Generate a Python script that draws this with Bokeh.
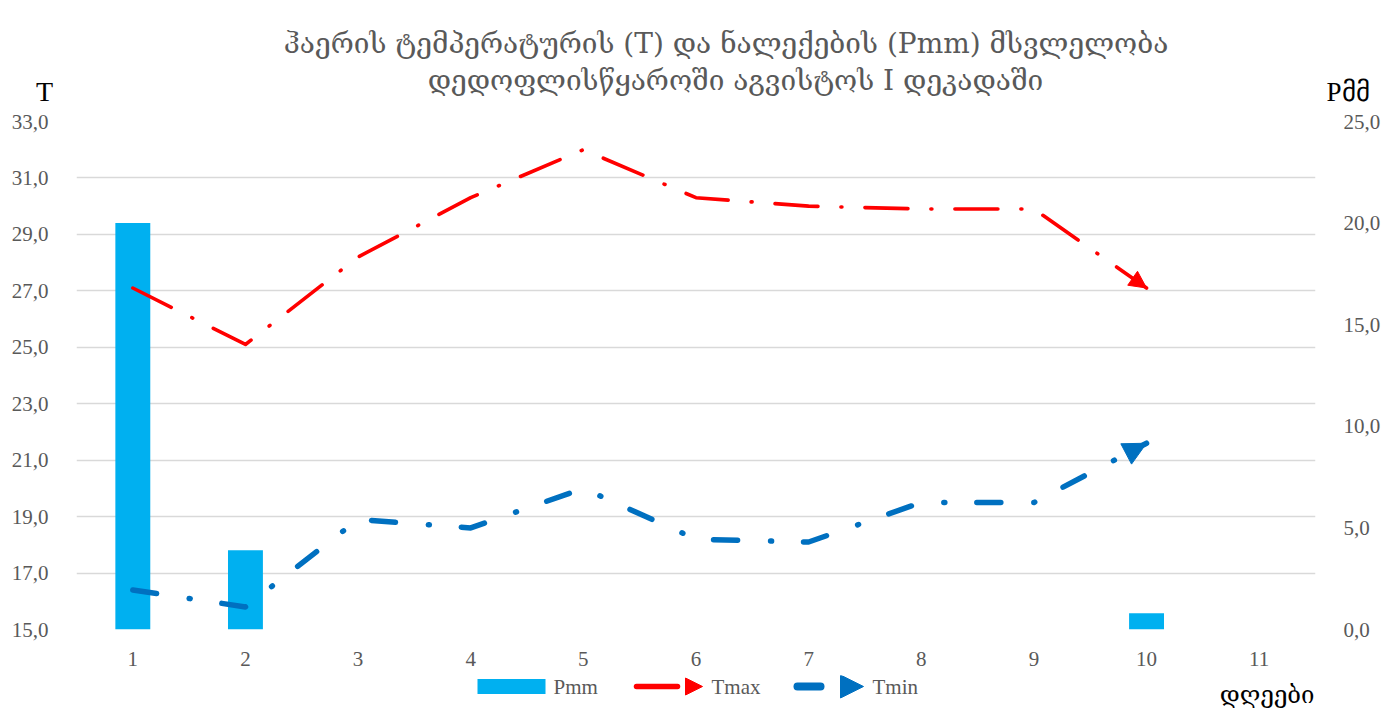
from bokeh.plotting import figure
from bokeh.layouts import column
from bokeh.models import (Range1d, LinearAxis, FixedTicker, CustomJSTickFormatter,
                          Arrow, NormalHead, ColumnDataSource, Label)
from bokeh.core.properties import value
from bokeh.embed import file_html
from bokeh.resources import INLINE

# ---------------- data ----------------
days = [1, 2, 3, 4, 5, 6, 7, 8, 9, 10, 11]
obs_days = [1, 2, 3, 4, 5, 6, 7, 8, 9, 10]
tmax = [27.1, 25.1, 28.2, 30.3, 32.0, 30.3, 30.0, 29.9, 29.9, 27.1]
tmin = [16.4, 15.8, 18.9, 18.6, 20.0, 18.2, 18.1, 19.5, 19.5, 21.6]
pmm = [20.0, 3.9, 0.0, 0.0, 0.0, 0.0, 0.0, 0.0, 0.0, 0.8]
t_ticks = [15, 17, 19, 21, 23, 25, 27, 29, 31, 33]
p_ticks = [0, 5, 10, 15, 20, 25]
title_lines = ["ჰაერის ტემპერატურის (T) და ნალექების (Pmm)  მსვლელობა",
               "დედოფლისწყაროში აგვისტოს I დეკადაში"]
series_names = ["Pmm", "Tmax", "Tmin"]
y_left_title = "T"
y_right_title = "Pმმ"
x_title = "დღეები"

BAR = "#00B0F0"
RED = "#FF0000"
BLUE = "#0070C0"
GREY = "#595959"
FONT = "Liberation Serif"
GEO = "DejaVu Serif"

W = 1392
FL, FR = 76, 1315          # frame left/right (all stacked figures share it)
TOP_H = 106
M_TOP, M_FRAME, M_BOT = 15, 508, 46
MAIN_H = M_TOP + M_FRAME + M_BOT
BOT_H = 714 - TOP_H - MAIN_H


def strip(h):
    f = figure(width=W, height=h, output_backend="svg", toolbar_location=None,
               x_range=Range1d(FL, FR), y_range=Range1d(h, 0),
               x_axis_type=None, y_axis_type=None,
               min_border_left=FL, min_border_right=W - FR,
               min_border_top=0, min_border_bottom=0)
    f.outline_line_alpha = 0
    f.xgrid.visible = False
    f.ygrid.visible = False
    return f


# ---------------- header ----------------
top = strip(TOP_H)
top.text(x=[730, 735], y=[43, 80], text=title_lines, text_font=value(GEO),
         text_font_size=value("28px"), text_color=GREY, text_align="center",
         text_baseline="middle")
top.add_layout(Label(text=y_left_title, x=44, y=91, x_units="canvas", y_units="canvas",
                     text_font=FONT, text_font_size="28px", text_color="black",
                     text_align="center", text_baseline="middle"), "left")
top.add_layout(Label(text=y_right_title, x=1326, y=91, x_units="canvas", y_units="canvas",
                     text_font=FONT, text_font_size="27px", text_color="black",
                     text_align="left", text_baseline="middle"), "right")

# ---------------- main chart ----------------
p = figure(width=W, height=MAIN_H, output_backend="svg", toolbar_location=None,
           x_range=Range1d(days[0] - 0.5, days[-1] + 0.5), y_range=Range1d(t_ticks[0], t_ticks[-1]),
           min_border_left=FL, min_border_right=W - FR, min_border_top=M_TOP,
           min_border_bottom=M_BOT)
p.outline_line_alpha = 0

fmt = CustomJSTickFormatter(code="return tick.toFixed(1).replace('.', ',');")

p.yaxis.ticker = FixedTicker(ticks=t_ticks)
p.yaxis.formatter = fmt
p.xaxis.ticker = FixedTicker(ticks=days)

rax = LinearAxis(y_range_name="p", ticker=FixedTicker(ticks=p_ticks), formatter=fmt)
p.extra_y_ranges = {"p": Range1d(p_ticks[0], p_ticks[-1])}
p.add_layout(rax, "right")

for ax in (p.xaxis[0], p.yaxis[0], rax):
    ax.axis_line_alpha = 0
    ax.major_tick_line_alpha = 0
    ax.minor_tick_line_alpha = 0
    ax.major_tick_out = 0
    ax.major_tick_in = 0
    ax.minor_tick_out = 0
    ax.minor_tick_in = 0
    ax.major_label_text_font = FONT
    ax.major_label_text_font_size = "21px"
    ax.major_label_text_color = GREY
    ax.major_label_standoff = 24
p.yaxis.major_label_standoff = 28
p.xaxis.major_label_standoff = 22

p.xgrid.visible = False
p.ygrid.ticker = FixedTicker(ticks=t_ticks)
p.ygrid.grid_line_color = "#d9d9d9"
p.ygrid.grid_line_width = 1.6

src = ColumnDataSource(dict(x=obs_days, top=pmm))
p.vbar(x="x", top="top", bottom=0, width=0.31, source=src, y_range_name="p",
       fill_color=BAR, line_alpha=0)

p.line(obs_days, tmax, line_color=RED, line_width=3.6, line_dash="43 23 1 23",
       line_cap="round", line_join="round")
p.line(obs_days, tmin, line_color=BLUE, line_width=5.5, line_dash="24 33 1 32",
       line_cap="round", line_join="round")

p.add_layout(Arrow(end=NormalHead(size=17, fill_color=RED, line_color=RED, line_width=1),
                   x_start=obs_days[-2], y_start=tmax[-2], x_end=obs_days[-1], y_end=tmax[-1],
                   line_alpha=0))
p.add_layout(Arrow(end=NormalHead(size=23, fill_color=BLUE, line_color=BLUE, line_width=1),
                   x_start=obs_days[-2], y_start=tmin[-2], x_end=obs_days[-1], y_end=tmin[-1],
                   line_alpha=0))

# ---------------- footer (legend + x title) ----------------
bot = strip(BOT_H)
ly = 11
bot.quad(left=[477], right=[545], top=[ly - 7.5], bottom=[ly + 7.5], fill_color=BAR, line_alpha=0)
bot.segment(x0=[636], y0=[ly], x1=[677], y1=[ly], line_color=RED, line_width=5.5, line_cap="round")
bot.add_layout(Arrow(end=NormalHead(size=17, fill_color=RED, line_color=RED, line_width=1),
                     x_start=684, y_start=ly, x_end=702, y_end=ly, line_alpha=0))
bot.segment(x0=[797], y0=[ly], x1=[820], y1=[ly], line_color=BLUE, line_width=8, line_cap="round")
bot.add_layout(Arrow(end=NormalHead(size=23, fill_color=BLUE, line_color=BLUE, line_width=1),
                     x_start=840, y_start=ly, x_end=863, y_end=ly, line_alpha=0))
bot.text(x=[553, 711, 872], y=[ly, ly, ly], text=series_names, text_font=value(FONT),
         text_font_size=value("21px"), text_color=GREY, text_align="left",
         text_baseline="middle")
bot.text(x=[FR - 1], y=[ly + 8], text=[x_title], text_font=value(GEO),
         text_font_size=value("24px"), text_color="black", text_align="right",
         text_baseline="middle")

layout = column(top, p, bot)

open("out.html", "w").write(file_html(layout, INLINE))
